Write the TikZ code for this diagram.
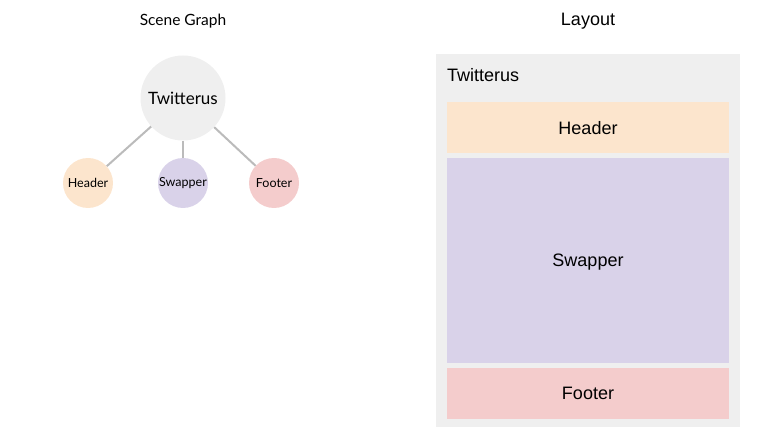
\documentclass[tikz,border=0pt]{standalone}
\usepackage{fontspec}
\setmainfont{Liberation Sans}
\newfontfamily\latofont{Lato}
\usetikzlibrary{positioning}

\definecolor{rootgray}{HTML}{EFEFEF}
\definecolor{linegray}{HTML}{BBBBBB}
\definecolor{headerfill}{HTML}{FCE5CD}
\definecolor{swapperfill}{HTML}{D9D2E9}
\definecolor{footerfill}{HTML}{F4CCCC}

\begin{document}
\begin{tikzpicture}[
    x=1pt, y=-1pt,
    title/.style={inner sep=0pt},
    root/.style={circle, fill=rootgray, minimum size=85pt, inner sep=0pt, font=\latofont\fontsize{17}{19}\selectfont},
    leaf/.style={circle, minimum size=50pt, inner sep=0pt, font=\latofont\fontsize{12.5}{14}\selectfont},
    edge/.style={draw=linegray, line width=2pt},
    panel/.style={rectangle, inner sep=0pt, minimum width=282pt, text depth=0pt, font=\fontsize{18}{20}\selectfont},
]
    \useasboundingbox (0,0) rectangle (763,438);

    % Scene graph
    \node [title, font=\latofont\fontsize{15.5}{17}\selectfont] (sg_title) at (183,21) {Scene Graph};
    \node [root] (sg_root) at (183,98) {Twitterus};
    \node [leaf, fill=headerfill] (sg_header) at (88,183) {Header};
    \node [leaf, fill=swapperfill] (sg_swapper) at (183,183) {Swapper};
    \node [leaf, fill=footerfill] (sg_footer) at (274,183) {Footer};

    % Edges
    \draw [edge] (sg_root) -- (sg_header);
    \draw [edge] (sg_root) -- (sg_swapper);
    \draw [edge] (sg_root) -- (sg_footer);

    % Layout
    \node [title, font=\fontsize{18}{20}\selectfont] (ly_title) at (588,21) {Layout};
    \node [rectangle, fill=rootgray, minimum width=304pt, minimum height=373pt, inner sep=0pt] (ly_root) at (588,240.5) {};
    \node [title, anchor=west, font=\fontsize{18}{20}\selectfont] (ly_root_label) at (447,75) {Twitterus};
    \node [panel, fill=headerfill, minimum height=51pt] (ly_header) at (588,127.5) {Header};
    \node [panel, fill=swapperfill, minimum height=205pt] (ly_swapper) at (588,260.5) {Swapper};
    \node [panel, fill=footerfill, minimum height=51pt] (ly_footer) at (588,393.5) {Footer};

\end{tikzpicture}
\end{document}
